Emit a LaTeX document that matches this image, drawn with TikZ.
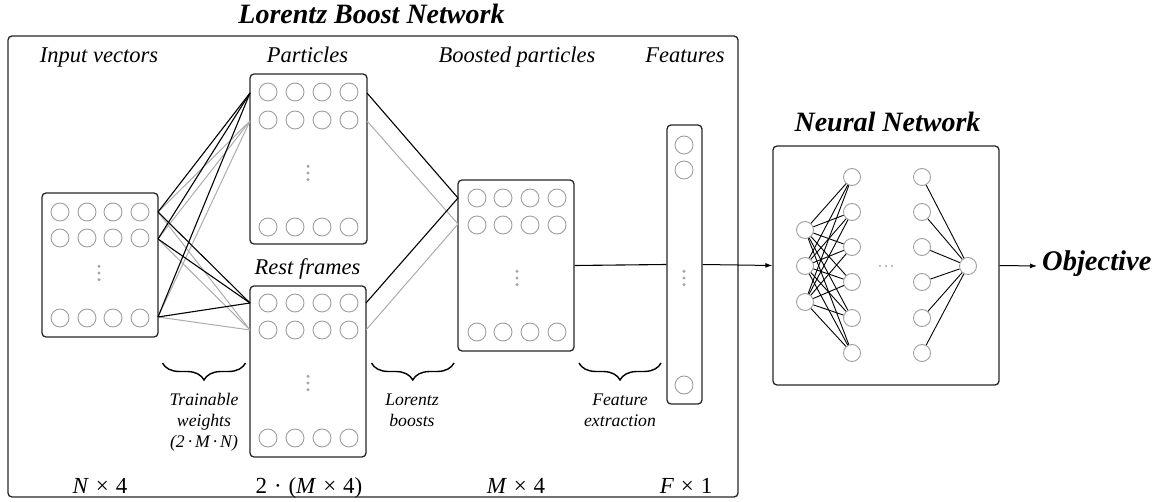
\documentclass[tikz,border=0pt]{standalone}
\usepackage{fontspec}
\setmainfont{Liberation Serif}
\usetikzlibrary{decorations.pathreplacing,arrows.meta}
\newcommand\opsp{\hspace{0.3em}}
\begin{document}
\begin{tikzpicture}[x=1pt,y=-1pt,
  box/.style={draw=black!85,line width=1.3pt,rounded corners=4pt,inner sep=0pt},
  neuron/.style={circle,draw=gray!75,line width=0.9pt,minimum size=18pt,inner sep=0pt},
  nnode/.style={circle,draw=gray!75,line width=0.9pt,fill=white,minimum size=17pt,inner sep=0pt},
  lbl/.style={font=\fontsize{22.5}{26}\selectfont\itshape,anchor=base,inner sep=0pt},
  ttl/.style={font=\fontsize{28}{32}\selectfont\bfseries\itshape,anchor=base,inner sep=0pt},
  dimlbl/.style={font=\fontsize{23}{26}\selectfont,anchor=base,inner sep=0pt},
  brlbl/.style={font=\fontsize{17.7}{21}\selectfont\itshape,anchor=base,inner sep=0pt},
  blk/.style={line width=1.1pt,black},
  gry/.style={line width=1pt,gray!65},
  nnline/.style={line width=0.9pt,black},
  brc/.style={decorate,decoration={brace,mirror,amplitude=17pt},line width=1.4pt},
  arr/.style={line width=1pt,-{Latex[length=7pt,width=5pt]}},
  dot/.style={circle,fill=gray!70,inner sep=0pt,minimum size=3.4pt}
]
\useasboundingbox (0,0) rectangle (1155,502);

% title and outer box
\node[ttl] (title) at (371.5,24) {Lorentz Boost Network};
\node[box,minimum width=730pt,minimum height=461pt] (lbn) at (373,266.5) {};

% column labels
\node[lbl] (tin) at (99,63) {Input vectors};
\node[lbl] (tpa) at (307.5,63) {Particles};
\node[lbl] (tbo) at (517,63) {Boosted particles};
\node[lbl] (tfe) at (685,63) {Features};
\node[lbl] (tre) at (307.5,275) {Rest frames};

% boxes
\node[box,minimum width=116pt,minimum height=144pt] (inp) at (100,265) {};
\node[box,minimum width=117pt,minimum height=170pt] (par) at (308.5,159) {};
\node[box,minimum width=116pt,minimum height=171pt] (rst) at (308,371.5) {};
\node[box,minimum width=116pt,minimum height=171pt] (bst) at (516,265.5) {};
\node[box,minimum width=35pt,minimum height=279pt] (fea) at (684.5,264.5) {};
\node[box,minimum width=226pt,minimum height=239pt] (nn) at (886,265.5) {};

% circles
\foreach \c/\x in {1/60,2/87,3/113,4/140}{
  \foreach \r/\y in {1/212,2/238,3/318} \node[neuron] (in\r\c) at (\x,\y) {};
}
\foreach \c/\x in {1/268,2/295,3/322,4/349}{
  \foreach \r/\y in {1/92,2/120,3/227} \node[neuron] (pa\r\c) at (\x,\y) {};
  \foreach \r/\y in {1/303,2/330,3/438} \node[neuron] (re\r\c) at (\x,\y) {};
}
\foreach \c/\x in {1/477,2/503,3/530,4/557}{
  \foreach \r/\y in {1/198,2/225,3/332} \node[neuron] (bo\r\c) at (\x,\y) {};
}
\foreach \r/\y in {1/145,2/170,3/385} \node[neuron] (fe\r) at (684,\y) {};

% vertical dots
\foreach \x/\y in {99/273,308/173,308/383,517/278,684/278}{
  \node[dot] at (\x,\y-6.7) {};
  \node[dot] at (\x,\y) {};
  \node[dot] at (\x,\y+6.7) {};
}

% connector end points
\coordinate (ia) at (158,212);
\coordinate (ib) at (158,239);
\coordinate (ic) at (158,317);
\coordinate (pa) at (250,93);
\coordinate (pb) at (250,121);
\coordinate (ra) at (250,303);
\coordinate (rb) at (250,330);
\coordinate (pea) at (367,93);
\coordinate (peb) at (367,121);
\coordinate (rea) at (366,303);
\coordinate (reb) at (366,330);
\coordinate (ba) at (458,198);
\coordinate (bb) at (458,224);

\foreach \s in {ia,ib,ic}{
  \draw[gry] (\s) -- (pb);
  \draw[gry] (\s) -- (rb);
}
\foreach \s in {ia,ib,ic}{
  \draw[blk] (\s) -- (pa);
  \draw[blk] (\s) -- (ra);
}
\draw[gry] (peb) -- (bb);
\draw[gry] (reb) -- (bb);
\draw[blk] (pea) -- (ba);
\draw[blk] (rea) -- (ba);

\draw[blk] (bst.east) -- (fea.west);
\draw[arr] (fea.east) -- (nn.west);

% neural network
\foreach \i/\y in {1/230,2/266,3/302} \node[nnode] (x\i) at (805,\y) {};
\foreach \j/\y in {1/177,2/212,3/247,4/282,5/318,6/353}{
  \node[nnode] (h\j) at (852,\y) {};
  \node[nnode] (g\j) at (922,\y) {};
}
\node[nnode] (out) at (968,266) {};
\foreach \i in {1,2,3}{
  \foreach \j in {1,...,6} \draw[nnline] (x\i) -- (h\j);
}
\foreach \j in {1,...,6} \draw[nnline] (g\j) -- (out);
\foreach \x in {880,886,892} \node[circle,fill=gray!70,inner sep=0pt,minimum size=2.4pt] at (\x,266) {};

\node[font=\fontsize{28.5}{32}\selectfont\bfseries\itshape,anchor=base west,inner sep=0pt] (obj) at (1042,271) {Objective};
\coordinate (objin) at (1037,266);
\draw[arr] (nn.east) -- (objin);
\node[ttl] (ttl2) at (887.5,132) {Neural Network};

% braces
\coordinate (b1a) at (162.5,363);
\coordinate (b1b) at (245.5,363);
\coordinate (b2a) at (371.5,363);
\coordinate (b2b) at (454,363);
\coordinate (b3a) at (579,363);
\coordinate (b3b) at (661,363);
\draw[brc] (b1a) -- (b1b);
\draw[brc] (b2a) -- (b2b);
\draw[brc] (b3a) -- (b3b);
\node[brlbl] (l1a) at (204,405) {Trainable};
\node[brlbl] (l1b) at (204,426) {weights};
\node[brlbl] (l1c) at (204,447) {(2\,·\,M\,·\,N)};
\node[brlbl] (l2a) at (412,405) {Lorentz};
\node[brlbl] (l2b) at (412,426) {boosts};
\node[brlbl] (l3a) at (620,405) {Feature};
\node[brlbl] (l3b) at (620,426) {extraction};

% dimension labels
\node[dimlbl] (d1) at (100,493) {\textit{N}\opsp×\opsp4};
\node[dimlbl] (d2) at (309,493) {2\opsp·\opsp(\textit{M}\opsp×\opsp4)};
\node[dimlbl] (d3) at (516,493) {\textit{M}\opsp×\opsp4};
\node[dimlbl] (d4) at (686,493) {\textit{F}\opsp×\opsp1};
\end{tikzpicture}
\end{document}
